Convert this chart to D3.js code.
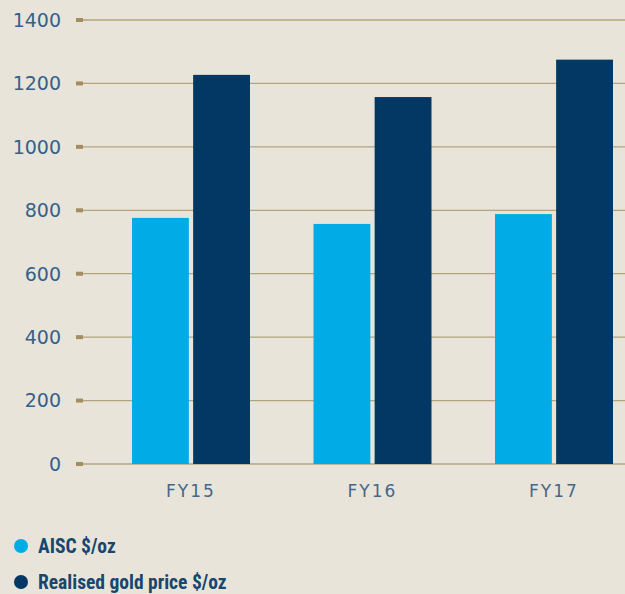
<!DOCTYPE html>
<html>
<head>
<meta charset="utf-8">
<script src="https://cdn.jsdelivr.net/npm/d3@7"></script>
<style>
  body { margin: 0; background: #e8e4da; }
  svg { display: block; }
</style>
</head>
<body>
<svg id="chart"></svg>
<script>
// the data
var years = ['FY15', 'FY16', 'FY17'];
var seriesNames = ['AISC $/oz', 'Realised gold price $/oz'];
var aisc = [776, 757, 788];
var goldPrice = [1227, 1157, 1275];
var yTicks = [0, 200, 400, 600, 800, 1000, 1200, 1400];
var colours = ['#00abe6', '#023863'];

var width = 625, height = 594;

var svg = d3.select('#chart')
	.attr('width', width)
	.attr('height', height);

svg.append('rect')
	.attr('width', width)
	.attr('height', height)
	.attr('fill', '#e8e4da');

var x0 = d3.scaleBand()
	.domain(years)
	.range([100.25, 644.75])
	.paddingInner(0.35)
	.paddingOuter(0.175);

var x1 = d3.scaleBand()
	.domain([0, 1])
	.range([0, x0.bandwidth()])
	.paddingInner(0.07);

var y = d3.scaleLinear()
	.domain([0, 1400])
	.range([464, 20]);

// grid lines
svg.append('g')
	.selectAll('line')
	.data(yTicks)
	.join('line')
	.attr('x1', 80)
	.attr('x2', width)
	.attr('y1', function (d) { return y(d); })
	.attr('y2', function (d) { return y(d); })
	.attr('stroke', function (d) { return d === 0 ? '#c2b597' : '#b3a47f'; })
	.attr('stroke-width', function (d) { return d === 0 ? 2 : 1.3; });

// bars
var groups = svg.append('g')
	.selectAll('g')
	.data(years)
	.join('g')
	.attr('transform', function (d) { return 'translate(' + x0(d) + ',0)'; });

groups.selectAll('rect')
	.data(function (d, i) { return [aisc[i], goldPrice[i]]; })
	.join('rect')
	.attr('x', function (d, j) { return x1(j); })
	.attr('y', function (d) { return y(d); })
	.attr('width', x1.bandwidth())
	.attr('height', function (d) { return y(0) - y(d); })
	.attr('fill', function (d, j) { return colours[j]; });

// y axis: small square ticks + labels
var yAxis = svg.append('g');
yAxis.selectAll('rect')
	.data(yTicks)
	.join('rect')
	.attr('x', 76)
	.attr('y', function (d) { return y(d) - 2; })
	.attr('width', 7)
	.attr('height', 4)
	.attr('fill', '#a38e5f');

yAxis.selectAll('text')
	.data(yTicks)
	.join('text')
	.attr('x', 61)
	.attr('y', function (d) { return y(d); })
	.attr('dy', '0.36em')
	.attr('text-anchor', 'end')
	.attr('font-family', 'DejaVu Sans, sans-serif')
	.attr('font-size', 19)
	.attr('fill', '#35608a')
	.text(function (d) { return d; });

// x labels
svg.append('g')
	.selectAll('text')
	.data(years)
	.join('text')
	.attr('x', function (d) { return x0(d) + x0.bandwidth() / 2; })
	.attr('y', 497)
	.attr('text-anchor', 'middle')
	.attr('font-family', 'DejaVu Sans, sans-serif')
	.attr('font-size', 17)
	.attr('letter-spacing', 2)
	.attr('fill', '#456889')
	.text(function (d) { return d; });

// legend
var legend = svg.append('g')
	.selectAll('g')
	.data(seriesNames)
	.join('g')
	.attr('transform', function (d, i) { return 'translate(0,' + (546 + i * 36) + ')'; });

legend.append('circle')
	.attr('cx', 21)
	.attr('cy', 0)
	.attr('r', 7)
	.attr('fill', function (d, i) { return colours[i]; });

legend.append('text')
	.attr('x', 38)
	.attr('y', 0)
	.attr('dy', '0.36em')
	.attr('font-family', 'Liberation Sans Narrow, Roboto Condensed, sans-serif')
	.attr('font-weight', 'bold')
	.attr('font-size', 19.5)
	.attr('fill', '#17466e')
	.text(function (d) { return d; });
</script>
</body>
</html>
